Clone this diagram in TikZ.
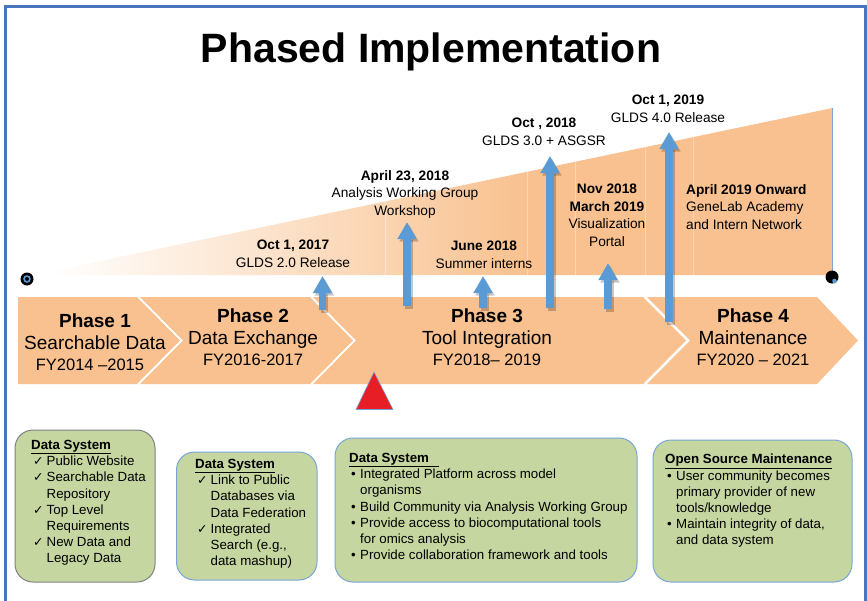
\documentclass[tikz,border=0pt]{standalone}
\usepackage{fontspec}
\setmainfont{Liberation Sans}
\newfontfamily\dejavu{DejaVu Sans}
\usetikzlibrary{arrows.meta}
\definecolor{peach}{RGB}{248,193,143}
\definecolor{arrowblue}{RGB}{91,155,213}
\definecolor{framblue}{RGB}{72,118,190}
\definecolor{boxgreen}{RGB}{198,214,160}
\definecolor{boxblue}{RGB}{120,165,215}
\definecolor{boxgray}{RGB}{128,128,128}
\definecolor{redtri}{RGB}{232,30,38}
\pgfdeclarehorizontalshading{wedgeshade}{100bp}{color(0bp)=(white); color(26bp)=(white); color(56bp)=(peach); color(100bp)=(peach)}
\newcommand{\ck}{\makebox[13.5pt][l]{\dejavu\fontsize{12.5}{16}\selectfont\char"2713}}
\newcommand{\bul}{\makebox[9pt][l]{\textbullet}}
\newcommand{\ind}[1]{\hspace*{#1}}
\tikzset{
  chev/.style={fill=peach, draw=none},
  phasetxt/.style={anchor=north, align=center, inner sep=0pt, font=\fontsize{19}{21.5}\selectfont},
  evtxt/.style={anchor=north, align=center, inner sep=0pt, font=\fontsize{13.7}{17.6}\selectfont},
  evarrow/.style={line width=7.5pt, draw=arrowblue, -{Triangle[width=18pt,length=17pt]}},
  evshadow/.style={line width=7.5pt, draw=black, opacity=0.22, -{Triangle[width=18pt,length=17pt]}},
  greenbox/.style={fill=boxgreen, draw=boxblue, line width=1pt, rounded corners=18pt},
  boxtxt/.style={anchor=north west, align=left, inner sep=0pt, font=\fontsize{13.3}{16.2}\selectfont},
}
\begin{document}
\begin{tikzpicture}[x=1pt,y=-1pt]
\useasboundingbox (0,0) rectangle (867,600);
% frame
\draw[framblue, line width=3pt] (5.5,620) -- (5.5,6.5) -- (865.5,6.5) -- (865.5,620);
% title
\node[anchor=base, inner sep=0pt, font=\fontsize{41}{48}\selectfont\bfseries] (title) at (431,62) {Phased Implementation};
% wedge
\shade[shading=wedgeshade] (33,275) -- (832.5,108) -- (832.5,275) -- cycle;
\begin{scope}
\clip (33,275) -- (832.5,108) -- (832.5,275) -- cycle;
\foreach \xx in {385,527,575,645,693}
  \draw[white, opacity=0.35, line width=0.8pt] (\xx,100) -- (\xx,276);
\end{scope}
\draw[boxblue, line width=1.3pt] (832.5,108) -- (832.5,271);
% dots
\fill[black] (27,279) circle (6.5);
\fill[arrowblue] (27,279) circle (3.8);
\fill[black] (27,279) circle (2);
\fill[black] (832,277) circle (6.5);
\fill[arrowblue] (834.5,281) circle (2.3);
% chevrons
\fill[chev] (18,297) -- (137,297) -- (180,340.5) -- (137,384) -- (18,384) -- cycle;
\fill[chev] (140,297) -- (310,297) -- (353,340.5) -- (310,384) -- (140,384) -- (183,340.5) -- cycle;
\fill[chev] (313,297) -- (643,297) -- (686,340.5) -- (643,384) -- (313,384) -- (356,340.5) -- cycle;
\fill[chev] (647,297) -- (817,297) -- (858,340.5) -- (817,384) -- (647,384) -- (690,340.5) -- cycle;
% phase labels
\node[phasetxt] (p1) at (95,314) {\textbf{Phase 1}\\Searchable Data\\{\fontsize{16.5}{21.5}\selectfont FY2014 \textendash2015\hspace*{10pt}}};
\node[phasetxt] (p2) at (253,309) {\textbf{Phase 2}\\Data Exchange\\{\fontsize{16.5}{21.5}\selectfont FY2016-2017}};
\node[phasetxt] (p3) at (487,309) {\textbf{Phase 3}\\Tool Integration\\{\fontsize{16.5}{21.5}\selectfont FY2018\textendash{} 2019}};
\node[phasetxt] (p4) at (753,309) {\textbf{Phase 4}\\Maintenance\\{\fontsize{16.5}{21.5}\selectfont FY2020 \textendash{} 2021}};
% red triangle
\filldraw[fill=redtri, draw=boxblue, line width=0.6pt] (374,372) -- (393,409.5) -- (356,409.5) -- cycle;
% event labels
\node[evtxt] (e1) at (293,240) {\textbf{Oct 1, 2017}\\GLDS 2.0 Release};
\node[evtxt] (e2) at (405,170) {\textbf{April 23, 2018}\\Analysis Working Group\\Workshop};
\node[evtxt] (e3) at (484,241) {\textbf{June 2018}\\Summer interns};
\node[evtxt] (e4) at (544,118) {\textbf{Oct , 2018}\\GLDS 3.0 + ASGSR};
\node[evtxt] (e5) at (607,184) {\textbf{Nov 2018}\\\textbf{March 2019}\\Visualization\\Portal};
\node[evtxt] (e6) at (668,95) {\textbf{Oct 1, 2019}\\GLDS 4.0 Release};
\node[evtxt, anchor=north west, align=left] (e7) at (686,184) {\textbf{April 2019 Onward}\\GeneLab Academy\\and Intern Network};
% arrows
\coordinate (a1b) at (322.5,310); \coordinate (a1t) at (322.5,276);
\coordinate (a2b) at (407,306);   \coordinate (a2t) at (407,222);
\coordinate (a3b) at (483,308);   \coordinate (a3t) at (483,276);
\coordinate (a4b) at (550,308);   \coordinate (a4t) at (550,156);
\coordinate (a5b) at (608,309);   \coordinate (a5t) at (608,263);
\coordinate (a6b) at (669,322);   \coordinate (a6t) at (669,132);
\foreach \i in {1,...,6} {
  \draw[evshadow] ([shift={(2,2.5)}]a\i b) -- ([shift={(2,2.5)}]a\i t);
  \draw[evarrow] (a\i b) -- (a\i t);
}
% bottom boxes
\draw[greenbox, draw=boxgray] (15,430) rectangle (155,582);
\draw[greenbox] (176.5,452) rectangle (317,580);
\draw[greenbox] (335,438) rectangle (637,582);
\draw[greenbox] (653,440) rectangle (852,582);
\node[boxtxt] (b1) at (31,440) {\underline{\textbf{Data System}}\\
\ind{2pt}\ck Public Website\\
\ind{2pt}\ck Searchable Data\\
\ind{15.5pt}Repository\\
\ind{2pt}\ck Top Level\\
\ind{15.5pt}Requirements\\
\ind{2pt}\ck New Data and\\
\ind{15.5pt}Legacy Data};
\node[boxtxt] (b2) at (195,459) {\underline{\textbf{Data System}}\\
\ind{2pt}\ck Link to Public\\
\ind{15.5pt}Databases via\\
\ind{15.5pt}Data Federation\\
\ind{2pt}\ck Integrated\\
\ind{15.5pt}Search (e.g.,\\
\ind{15.5pt}data mashup)};
\node[boxtxt] (b3) at (349,453) {\underline{\textbf{Data System}\hspace*{10pt}}\\
\ind{2pt}\bul Integrated Platform across model\\
\ind{11pt}organisms\\
\ind{2pt}\bul Build Community via Analysis Working Group\\
\ind{2pt}\bul Provide access to biocomputational tools\\
\ind{11pt}for omics analysis\\
\ind{2pt}\bul Provide collaboration framework and tools};
\node[boxtxt] (b4) at (665,454) {\underline{\textbf{Open Source Maintenance}}\\
\ind{2pt}\bul User community becomes\\
\ind{11pt}primary provider of new\\
\ind{11pt}tools/knowledge\\
\ind{2pt}\bul Maintain integrity of data,\\
\ind{11pt}and data system};
\end{tikzpicture}
\end{document}
